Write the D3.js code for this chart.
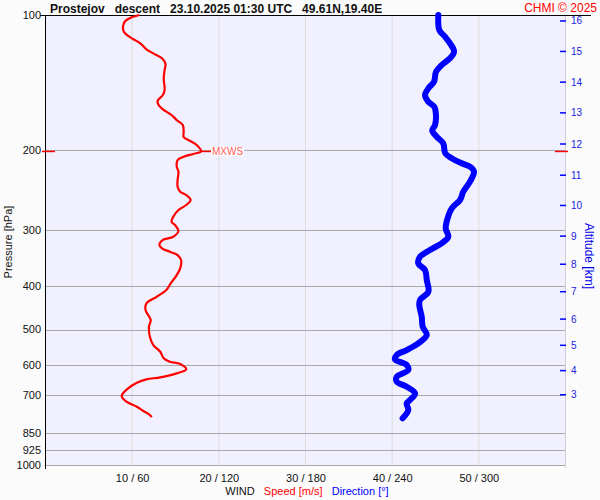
<!DOCTYPE html>
<html>
<head>
<meta charset="utf-8">
<script src="https://cdn.jsdelivr.net/npm/d3@7"></script>
<style>
  body { margin: 0; background: #fbfbfb; }
  svg { display: block; font-family: "Liberation Sans", Arial, sans-serif; }
  text { white-space: pre; }
</style>
</head>
<body>
<svg id="chart" width="600" height="500"></svg>
<script>
// wind speed profile, pressure [hPa] / speed [m/s]
const speedPres = [100, 101.2, 103.5, 106.2, 108.9, 111.3, 113.2, 115.6, 119.2, 121.7, 124.8, 128.5,
  132.5, 138.3, 146.8, 150.6, 155.1, 158.5, 162.0, 166.8, 171.2, 175.6, 181.7, 186.7, 190.3, 194.5,
  201, 203.6, 206.5, 210.1, 217.3, 222.9, 232.6, 240.8, 247.0, 251.2, 257.7, 264.4, 271.3, 280.8,
  288.1, 292.9, 301.6, 311.0, 316.2, 324.4, 330.0, 335.7, 341.5, 350.4, 365.6, 378.4, 394.8, 408.4,
  422.7, 437.2, 452.5, 464.2, 476.2, 492.8, 518.7, 541.2, 560.1, 579.3, 589.5, 596.5, 612.9, 625.6,
  638.5, 645.1, 656.4, 675.5, 702.6, 723.4, 742.1, 757.5, 774.3, 783.4];
const speedVals = [10.9, 10.0, 9.2, 9.0, 9.1, 9.6, 10.2, 11.0, 11.7, 12.5, 13.5, 13.9,
  13.8, 13.7, 13.8, 13.6, 13.0, 13.1, 13.6, 14.6, 15.2, 15.9, 16.0, 16.0, 16.7, 17.5,
  18.0, 17.1, 16.0, 15.3, 15.2, 15.4, 15.3, 15.3, 15.6, 16.3, 16.8, 16.3, 15.4, 14.8,
  14.6, 15.0, 15.4, 14.8, 13.6, 13.2, 13.5, 14.4, 15.3, 15.7, 15.6, 15.2, 14.5, 14.0,
  12.9, 11.7, 11.6, 11.9, 12.2, 12.0, 12.1, 12.5, 13.3, 13.7, 14.4, 15.6, 16.3, 15.2,
  13.3, 11.7, 10.6, 9.6, 8.85, 9.4, 10.6, 11.3, 12.1, 12.3];

// wind direction profile, pressure [hPa] / direction [deg]
const dirPres = [100, 108.0, 111.7, 115.6, 120.6, 124.8, 129.2, 133.7, 140.7, 145.5, 150.6, 155.9,
  159.9, 168.3, 175.6, 180.7, 186.4, 192.8, 202.9, 208.2, 213.6, 217.3, 222.9, 234.6, 247.0,
  257.7, 268.9, 283.1, 297.9, 311.0, 321.6, 332.8, 344.5, 356.4, 368.8, 388.0, 412.0, 429.9,
  441.0, 468.2, 492.8, 514.2, 536.5, 555.3, 569.5, 582.3, 599.5, 615.1, 636.5, 653.1, 669.9,
  693.0, 717.1, 729.4, 754.8, 787.6];
const dirVals = [272.3, 273.0, 276.9, 280.4, 283.2, 280.4, 274.6, 270.7, 269.3, 265.4, 263.1, 265.4,
  269.5, 270.7, 270.0, 268.1, 271.2, 275.7, 277.1, 281.6, 288.5, 294.2, 297.0, 294.2, 289.6,
  287.3, 281.6, 278.7, 277.4, 279.2, 274.6, 266.5, 259.6, 258.4, 263.1, 264.3, 265.4, 259.6,
  259.1, 260.8, 261.5, 264.3, 258.4, 250.4, 243.5, 242.3, 250.4, 251.5, 243.5, 243.5, 250.4,
  256.2, 252.7, 250.4, 251.5, 247.6];

const pressureTicks = [100, 200, 300, 400, 500, 600, 700, 850, 925, 1000];
const speedTicks = [10, 20, 30, 40, 50];
const dirTicks = [60, 120, 180, 240, 300];
const altKm = [3, 4, 5, 6, 7, 8, 9, 10, 11, 12, 13, 14, 15, 16];
const altPres = [698, 617, 542, 474, 412, 358, 310, 265, 227, 193.5, 165, 141, 120.5, 103.1];

const maxWind = { pres: 201, speed: 18.0 };

const svg = d3.select("#chart");
const plotL = 45, plotR = 565, plotT = 15, plotB = 465;

const y = d3.scaleLog().domain([100, 1000]).range([plotT, plotB]);
const xs = d3.scaleLinear().domain([0, 60]).range([plotL, plotR]);
const xd = d3.scaleLinear().domain([0, 360]).range([plotL, plotR]);

// plot background
svg.append("rect")
  .attr("x", plotL).attr("y", plotT)
  .attr("width", plotR - plotL).attr("height", plotB - plotT)
  .attr("fill", "#f0f0fe");

// vertical grid
svg.append("g").selectAll("line").data(speedTicks).join("line")
  .attr("x1", d => xs(d) + 0.5).attr("x2", d => xs(d) + 0.5)
  .attr("y1", plotT).attr("y2", plotB)
  .attr("stroke", "#dcdcdc");

// horizontal grid
svg.append("g").selectAll("line").data(pressureTicks.slice(1)).join("line")
  .attr("x1", plotL).attr("x2", plotR + 1)
  .attr("y1", d => Math.round(y(d)) + 0.5).attr("y2", d => Math.round(y(d)) + 0.5)
  .attr("stroke", "#a8a8a8");

// right axis line
svg.append("line")
  .attr("x1", plotR + 0.5).attr("x2", plotR + 0.5)
  .attr("y1", plotT).attr("y2", plotB + 3)
  .attr("stroke", "#cfcfd8");

// left axis + top line
svg.append("line")
  .attr("x1", plotL + 0.5).attr("x2", plotL + 0.5)
  .attr("y1", plotT).attr("y2", plotB + 4)
  .attr("stroke", "#000");
svg.append("line")
  .attr("x1", 40).attr("x2", 591)
  .attr("y1", plotT + 0.5).attr("y2", plotT + 0.5)
  .attr("stroke", "#000");

// pressure labels
svg.append("g").selectAll("text").data(pressureTicks).join("text")
  .attr("x", 41).attr("y", d => y(d)).attr("dy", "0.35em")
  .attr("text-anchor", "end").attr("font-size", 11).attr("fill", "#111")
  .text(d => d);

svg.append("text")
  .attr("transform", `translate(11.5,${(plotT + plotB) / 2 + 2}) rotate(-90)`)
  .attr("text-anchor", "middle").attr("font-size", 11).attr("fill", "#111")
  .text("Pressure [hPa]");

// wind tick labels
svg.append("g").selectAll("text").data(speedTicks).join("text")
  .attr("x", d => xs(d) + 1).attr("y", 482)
  .attr("text-anchor", "middle").attr("font-size", 11).attr("fill", "#111")
  .text((d, i) => d + " / " + dirTicks[i]);

const legend = svg.append("text")
  .attr("x", 307).attr("y", 495)
  .attr("text-anchor", "middle").attr("font-size", 11);
legend.append("tspan").attr("fill", "#111").text("WIND");
legend.append("tspan").attr("fill", "#ff0000").text("   Speed [m/s]");
legend.append("tspan").attr("fill", "#0000ff").text("   Direction [°]");

// altitude axis
const alt = svg.append("g");
alt.selectAll("line").data(altKm).join("line")
  .attr("x1", 560).attr("x2", 566)
  .attr("y1", (d, i) => y(altPres[i])).attr("y2", (d, i) => y(altPres[i]))
  .attr("stroke", "#0000ff").attr("stroke-width", 1.5);
alt.selectAll("text").data(altKm).join("text")
  .attr("x", 571).attr("y", (d, i) => y(altPres[i])).attr("dy", "0.35em")
  .attr("font-size", 10).attr("fill", "#2020e0")
  .text(d => d);
svg.append("text")
  .attr("transform", `translate(585,256) rotate(90)`)
  .attr("text-anchor", "middle").attr("font-size", 12).attr("fill", "#0000ee")
  .text("Altitude [km]");

// max wind marks
const ym = y(maxWind.pres);
svg.append("line").attr("x1", 42).attr("x2", 55).attr("y1", ym).attr("y2", ym)
  .attr("stroke", "#ff0000").attr("stroke-width", 1.5);
svg.append("line").attr("x1", 555).attr("x2", 568).attr("y1", ym).attr("y2", ym)
  .attr("stroke", "#ff0000").attr("stroke-width", 1.5);
svg.append("line").attr("x1", xs(maxWind.speed)).attr("x2", 212).attr("y1", ym).attr("y2", ym)
  .attr("stroke", "#ff0000").attr("stroke-width", 1.5);
svg.append("rect").attr("x", 211).attr("y", ym - 4.5).attr("width", 33).attr("height", 9)
  .attr("fill", "#fff");
svg.append("text").attr("x", 212).attr("y", ym).attr("dy", "0.36em")
  .attr("font-size", 10).attr("fill", "#ff5a5a")
  .text("MXWS");

// profiles
const dirLine = d3.line()
  .x((d, i) => xd(d)).y((d, i) => y(dirPres[i]))
  .curve(d3.curveCatmullRom);
svg.append("path").datum(dirVals)
  .attr("d", dirLine)
  .attr("fill", "none").attr("stroke", "#0000ff")
  .attr("stroke-width", 6).attr("stroke-linecap", "round").attr("stroke-linejoin", "round");

const speedLine = d3.line()
  .x((d, i) => xs(d)).y((d, i) => y(speedPres[i]))
  .curve(d3.curveCatmullRom);
svg.append("path").datum(speedVals)
  .attr("d", speedLine)
  .attr("fill", "none").attr("stroke", "#ff0000")
  .attr("stroke-width", 2.2).attr("stroke-linejoin", "round");

// title
svg.append("text").attr("x", 50).attr("y", 12.5)
  .attr("font-size", 12).attr("font-weight", "bold").attr("fill", "#111")
  .text("Prostejov   descent   23.10.2025 01:30 UTC   49.61N,19.40E");
svg.append("text").attr("x", 597).attr("y", 12)
  .attr("text-anchor", "end").attr("font-size", 12).attr("fill", "#ff0000")
  .text("CHMI © 2025");
</script>
</body>
</html>
